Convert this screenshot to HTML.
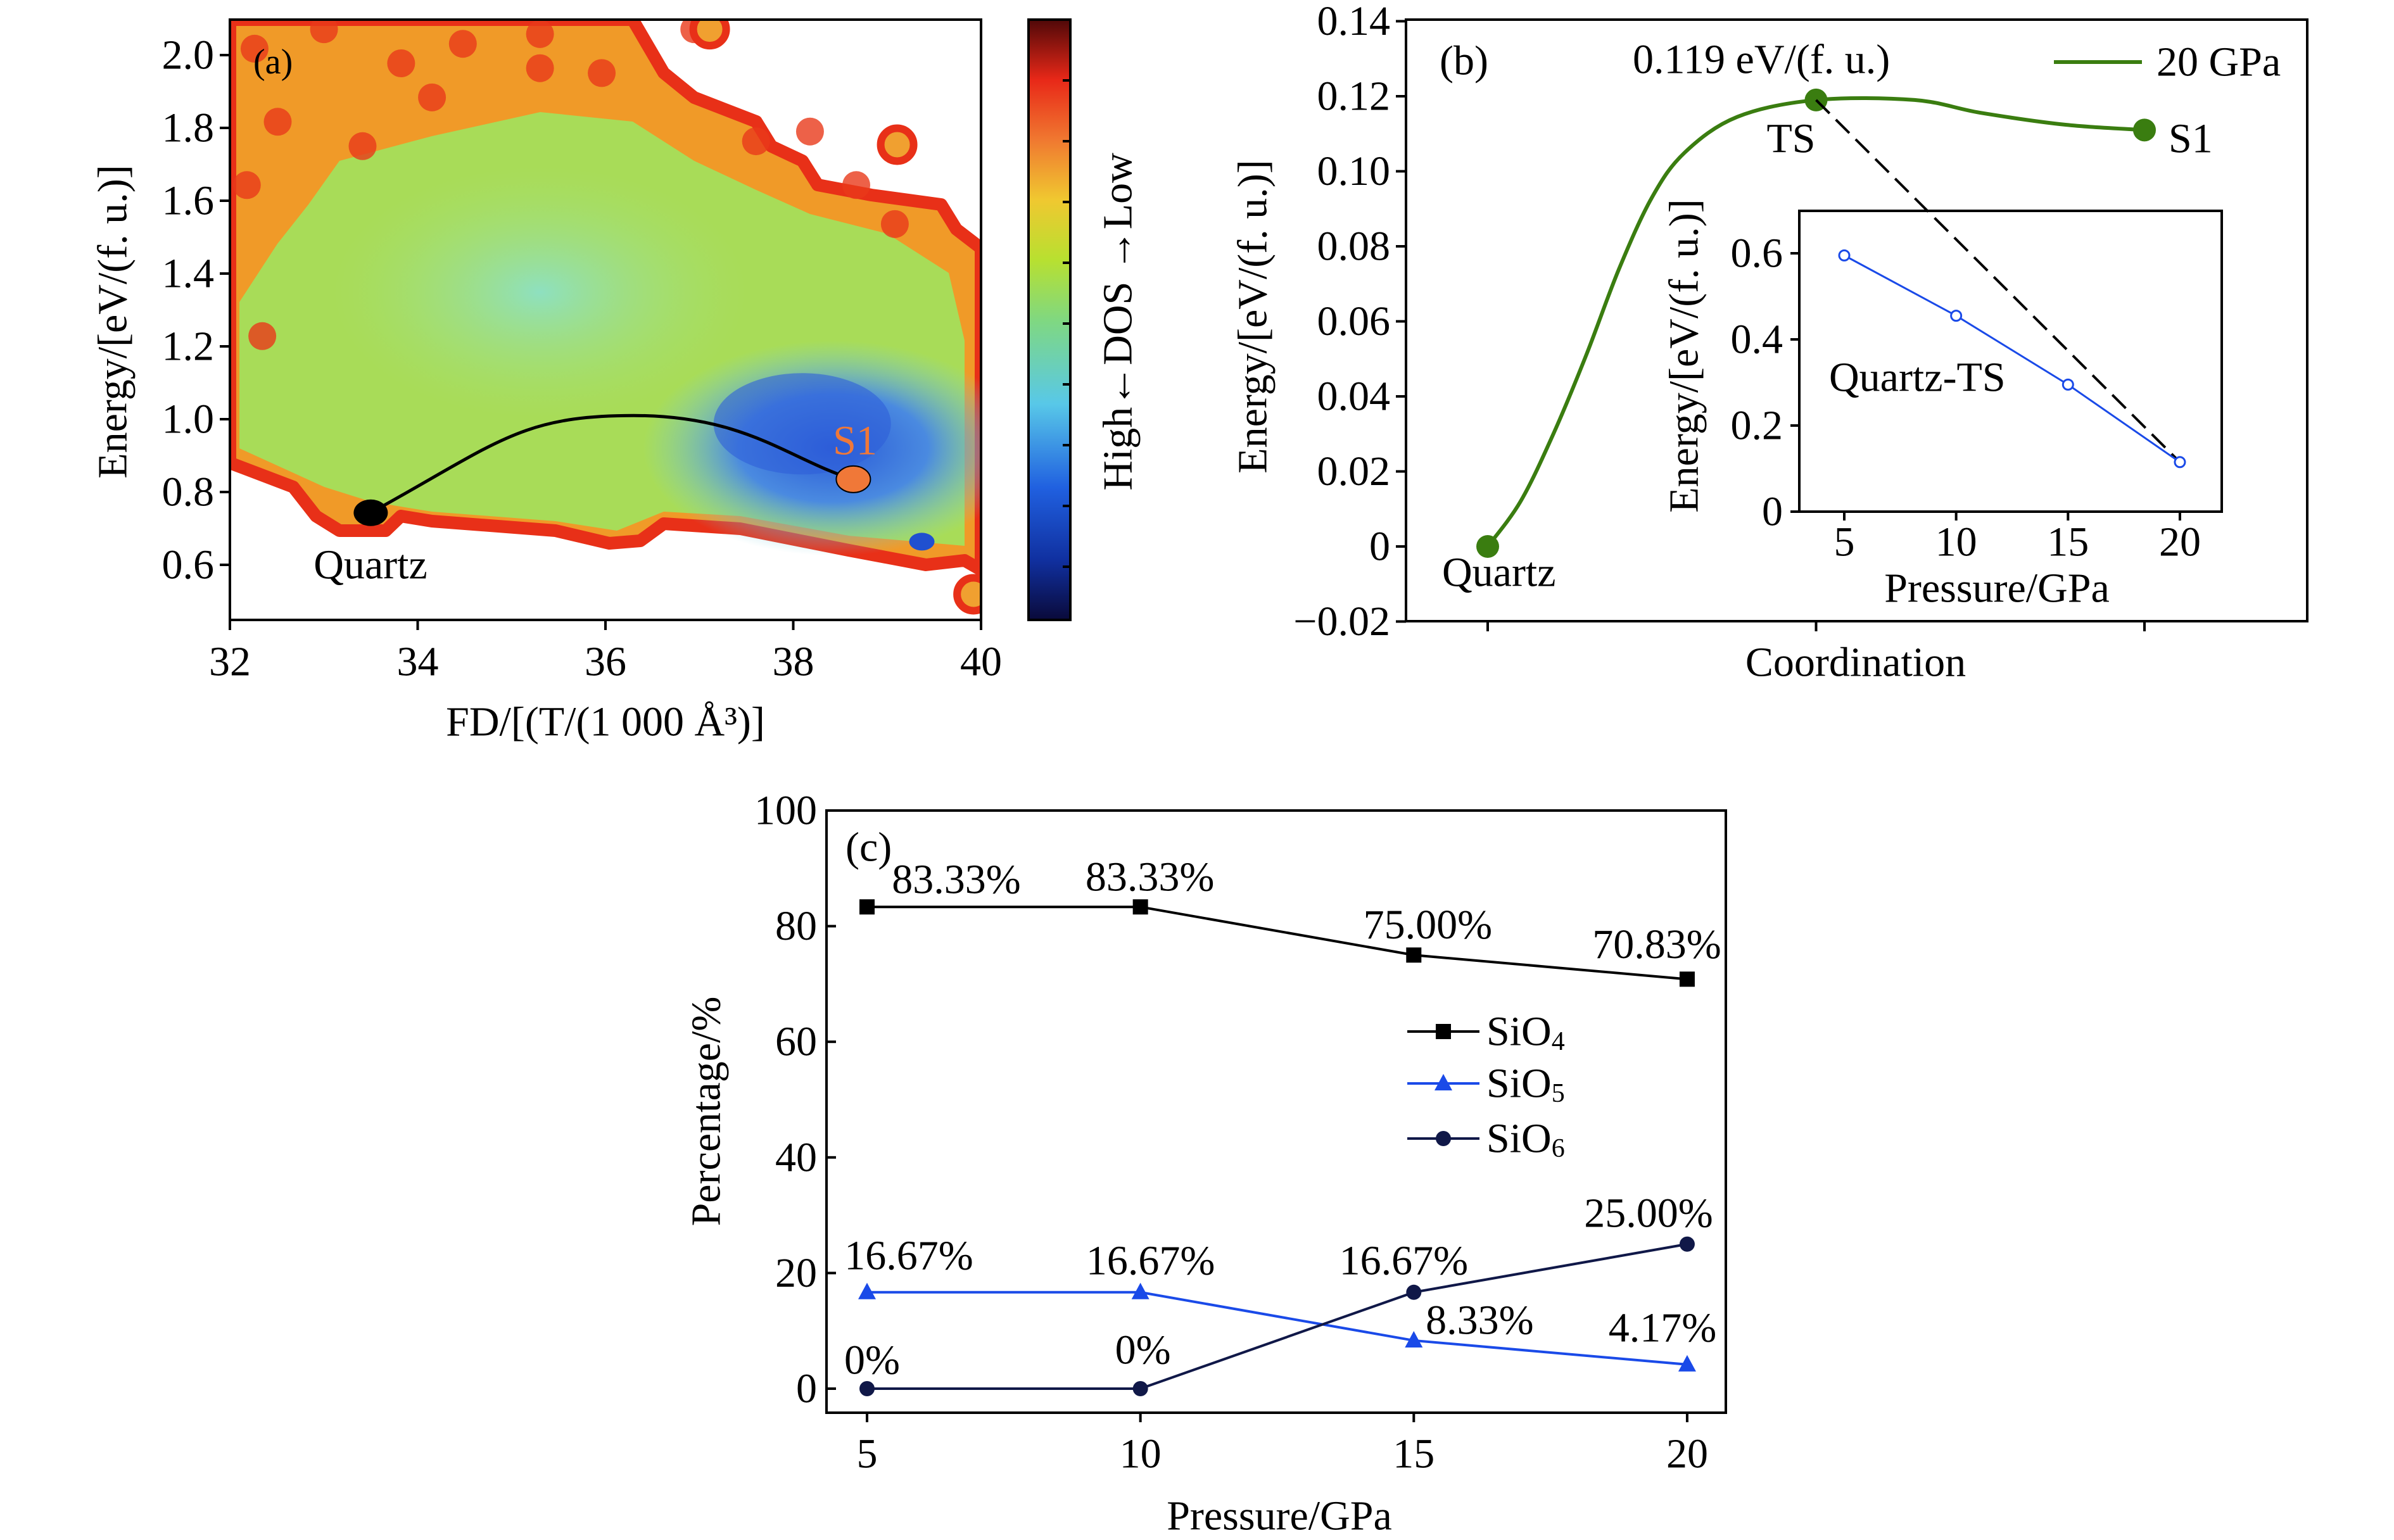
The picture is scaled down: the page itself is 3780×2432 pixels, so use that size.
<!DOCTYPE html>
<html><head><meta charset="utf-8"><style>
html,body{margin:0;padding:0;background:#fff}
svg text{font-family:"Liberation Serif",serif;fill:#000}
</style></head><body>
<svg id="fig" xmlns="http://www.w3.org/2000/svg" width="3780" height="2427" viewBox="0 0 3780 2427">
<defs>
<linearGradient id="cbar" x1="0" y1="1" x2="0" y2="0">
<stop offset="0" stop-color="#0a0a3a"/><stop offset="0.1" stop-color="#1030a0"/><stop offset="0.22" stop-color="#2060e0"/>
<stop offset="0.36" stop-color="#58c8e8"/><stop offset="0.5" stop-color="#80d880"/><stop offset="0.6" stop-color="#b8e030"/>
<stop offset="0.7" stop-color="#f0c830"/><stop offset="0.8" stop-color="#f07830"/><stop offset="0.9" stop-color="#e82818"/><stop offset="1" stop-color="#500808"/>
</linearGradient>
<radialGradient id="blue" cx="0.5" cy="0.5" r="0.5"><stop offset="0" stop-color="#2a5ad8"/><stop offset="0.5" stop-color="#4a8ae0"/><stop offset="1" stop-color="#7ad0d8" stop-opacity="0"/></radialGradient>
<radialGradient id="cyan" cx="0.5" cy="0.5" r="0.5"><stop offset="0" stop-color="#8ee0c0"/><stop offset="1" stop-color="#a8e070" stop-opacity="0"/></radialGradient>
<clipPath id="clipA"><rect x="363" y="31" width="1186" height="948"/></clipPath>
</defs>
<g id="pa"></g>
<g id="pb"></g>
<g id="pc"></g>
</svg>
<script>
// ---------- data ----------
const aXTicks = [32,34,36,38,40];
const aYTicks = [0.6,0.8,1.0,1.2,1.4,1.6,1.8,2.0];
const aPath = [[33.5,0.743],[36.3,1.01],[38.64,0.835]];
const bYTicks = [-0.02,0,0.02,0.04,0.06,0.08,0.10,0.12,0.14];
const bStates = ['Quartz','TS','S1'];
const bStateEnergy = [0,0.119,0.111];
const bCurveT = [0,0.1,0.2,0.3,0.4,0.5,0.6,0.76,1,1.3,1.5,1.76,2];
const bCurveE = [0,0.012,0.030,0.051,0.074,0.093,0.105,0.1145,0.119,0.119,0.1156,0.1124,0.111];
const insetP = [5,10,15,20];
const insetE = [0.595,0.455,0.295,0.115];
const insetYTicks = [0,0.2,0.4,0.6];
const cP = [5,10,15,20];
const sio4 = [83.33,83.33,75.00,70.83];
const sio5 = [16.67,16.67,8.33,4.17];
const sio6 = [0,0,16.67,25.00];
const cYTicks = [0,20,40,60,80,100];

const NS='http://www.w3.org/2000/svg';
function el(parent,tag,attrs){const e=document.createElementNS(NS,tag);for(const k in attrs)e.setAttribute(k,attrs[k]);parent.appendChild(e);return e;}
function T(parent,x,y,str,size,anchor,name,rot){
  const t=document.createElementNS(NS,'text');
  t.setAttribute('transform','translate('+x+','+y+')'+(rot?' rotate(-90)':''));
  t.setAttribute('font-size',size);t.setAttribute('text-anchor',anchor||'middle');
  t.setAttribute('dominant-baseline','central');
  t.textContent=str;
  
  
  parent.appendChild(t);return t;
}
const FS=66;

// ---------- panel a ----------
const pa=document.getElementById('pa');
const ax=v=>363+(v-32)*148.25, ay=v=>87+(2.0-v)*575;
const hm=el(pa,'g',{'clip-path':'url(#clipA)'});

const sx=0.821, sy=1.3;
const env=[[298,40],[820,40],[860,150],[900,200],[980,250],[1000,300],[1040,330],[1060,380],[1130,400],[1220,420],[1240,470],[1272,510],[1272,1170],[1250,1150],[1200,1160],[1100,1130],[960,1085],[860,1075],[830,1110],[790,1115],[720,1090],[560,1070],[520,1060],[500,1090],[440,1090],[410,1060],[380,1000],[298,950]];
const pts=a=>a.map(p=>(p[0]/sx).toFixed(0)+','+(p[1]/sy).toFixed(0)).join(' ');
el(hm,'polygon',{points:pts(env),fill:'#f09a28',stroke:'#e83018','stroke-width':20,'stroke-linejoin':'round'});
const green=[[440,330],[560,280],[700,230],[820,250],[900,330],[980,390],[1050,440],[1150,480],[1230,560],[1250,700],[1250,1120],[1100,1100],[960,1060],[860,1050],[800,1090],[720,1070],[560,1050],[520,1040],[480,1030],[420,1000],[310,920],[310,620],[360,500],[400,420]];
el(hm,'polygon',{points:pts(green),fill:'#a8dc58'});
el(hm,'ellipse',{cx:700/sx,cy:600/sy,rx:330,ry:200,fill:'url(#cyan)'});
el(hm,'ellipse',{cx:1080/sx,cy:920/sy,rx:300,ry:170,fill:'url(#blue)'});
el(hm,'ellipse',{cx:1040/sx,cy:870/sy,rx:140,ry:80,fill:'#2f5fd8',opacity:0.6});
[[330,100],[420,60],[520,130],[600,90],[700,70],[780,150],[560,200],[360,250],[470,300],[320,380],[340,690],[700,140],[900,60],[980,290],[1050,270],[1110,380],[1160,460]].forEach(p=>{
  el(hm,'circle',{cx:p[0]/sx,cy:p[1]/sy,r:22,fill:'#e83a1a',opacity:0.8});});
[[1163,297],[920,60],[1262,1220]].forEach(p=>{el(hm,'circle',{cx:p[0]/sx,cy:p[1]/sy,r:26,fill:'#f0a030',stroke:'#e83018','stroke-width':12});});
el(hm,'ellipse',{cx:1195/sx,cy:1112/sy,rx:20,ry:14,fill:'#2050d0'});
const q=aPath.map(p=>[ax(p[0]),ay(p[1])]);
const c=el(pa,'path',{d:`M${q[0][0]},${q[0][1]} C${q[0][0]+200},${q[0][1]-110} ${q[1][0]-180},${q[1][1]} ${q[1][0]},${q[1][1]} S${q[2][0]-100},${q[2][1]-30} ${q[2][0]},${q[2][1]}`,fill:'none',stroke:'#000','stroke-width':5});

let d=el(pa,'ellipse',{cx:q[0][0],cy:q[0][1],rx:27,ry:21,fill:'#000'});

d=el(pa,'ellipse',{cx:q[2][0],cy:q[2][1],rx:27,ry:21,fill:'#f07838',stroke:'#000','stroke-width':2});

T(pa,585,892,'Quartz',FS,'middle','quartz-label');
let s1=T(pa,1350,696,'S1',FS,'middle','s1-label');s1.style.fill='#f07838';
T(pa,400,98,'(a)',FS*0.85,'start','panel-a-label');
el(pa,'rect',{x:363,y:31,width:1186,height:948,fill:'none',stroke:'#000','stroke-width':4});
aXTicks.forEach(v=>{el(pa,'line',{x1:ax(v),x2:ax(v),y1:979,y2:995,stroke:'#000','stroke-width':4});T(pa,ax(v),1045,String(v),FS,'middle','x-tick-'+v);});
aYTicks.forEach(v=>{el(pa,'line',{x1:347,x2:363,y1:ay(v),y2:ay(v),stroke:'#000','stroke-width':4});T(pa,338,ay(v),v.toFixed(1),FS,'end','y-tick-'+v);});
T(pa,956,1140,'FD/[(T/(1 000 Å³)]',FS,'middle','x-axis-title');
T(pa,178,508,'Energy/[eV/(f. u.)]',FS,'middle','y-axis-title',true);
const cb=el(pa,'rect',{x:1624,y:31,width:66,height:948,fill:'url(#cbar)',stroke:'#000','stroke-width':4});

for(let i=1;i<10;i++){const y=31+i*96;el(pa,'line',{x1:1678,x2:1690,y1:y,y2:y,stroke:'#000','stroke-width':4});}
T(pa,1765,508,'High←DOS →Low',FS,'middle','colorbar-label',true);

// ---------- panel b ----------
const pb=document.getElementById('pb');
const bx=t=>2349+t*518.5, by=v=>863-v*5925;
const bp=bCurveT.map((t,i)=>[bx(t),by(bCurveE[i])]);
let dd='M'+bp[0][0]+','+bp[0][1];
for(let i=0;i<bp.length-1;i++){const p0=bp[Math.max(0,i-1)],p1=bp[i],p2=bp[i+1],p3=bp[Math.min(bp.length-1,i+2)];
 dd+=` C${p1[0]+(p2[0]-p0[0])/6},${p1[1]+(p2[1]-p0[1])/6} ${p2[0]-(p3[0]-p1[0])/6},${p2[1]-(p3[1]-p1[1])/6} ${p2[0]},${p2[1]}`;}
const bc=el(pb,'path',{d:dd,fill:'none',stroke:'#3a7d10','stroke-width':6});

bStates.forEach((n,i)=>{const e=el(pb,'circle',{cx:bx(i),cy:by(bStateEnergy[i]),r:18,fill:'#3a7d10'});
 });
const ix=v=>2912+(v-5)*35.33, iy=v=>808-v*680;
el(pb,'line',{x1:bx(1),y1:by(bStateEnergy[1]),x2:ix(20),y2:iy(insetE[3]),stroke:'#000','stroke-width':4,'stroke-dasharray':'30,14'});
el(pb,'rect',{x:2841,y:333,width:667,height:475,fill:'none',stroke:'#000','stroke-width':4});
const il=el(pb,'polyline',{points:insetP.map((p,i)=>ix(p)+','+iy(insetE[i])).join(' '),fill:'none',stroke:'#1a4ae8','stroke-width':3});

insetP.forEach((p,i)=>{const m=el(pb,'circle',{cx:ix(p),cy:iy(insetE[i]),r:8,fill:'#fff',stroke:'#1a4ae8','stroke-width':3});
 });
insetP.forEach(v=>{el(pb,'line',{x1:ix(v),x2:ix(v),y1:808,y2:822,stroke:'#000','stroke-width':4});T(pb,ix(v),856,String(v),FS,'middle','inset-x-tick-'+v);});
insetYTicks.forEach(v=>{el(pb,'line',{x1:2827,x2:2841,y1:iy(v),y2:iy(v),stroke:'#000','stroke-width':4});T(pb,2815,iy(v),v===0?'0':v.toFixed(1),FS,'end','inset-y-tick-'+v);});
T(pb,3153,929,'Pressure/GPa',FS,'middle','inset-x-axis-title');
T(pb,2659,562,'Energy/[eV/(f. u.)]',FS,'middle','inset-y-axis-title',true);
T(pb,2888,596,'Quartz-TS',FS,'start','inset-series-label');
el(pb,'rect',{x:2220,y:31,width:1423,height:950,fill:'none',stroke:'#000','stroke-width':4});
bYTicks.forEach(v=>{el(pb,'line',{x1:2204,x2:2220,y1:by(v),y2:by(v),stroke:'#000','stroke-width':4});
 T(pb,2195,by(v),v===0?'0':(v<0?'−'+Math.abs(v).toFixed(2):v.toFixed(2)),FS,'end','y-tick-'+v);});
[0,1,2].forEach(t=>el(pb,'line',{x1:bx(t),x2:bx(t),y1:981,y2:997,stroke:'#000','stroke-width':4}));
T(pb,2930,1046,'Coordination',FS,'middle','x-axis-title');
T(pb,1978,500,'Energy/[eV/(f. u.)]',FS,'middle','y-axis-title',true);
T(pb,2273,96,'(b)',FS,'start','panel-b-label');
T(pb,2578,94,'0.119 eV/(f. u.)',FS,'start','barrier-annotation');
T(pb,2828,219,'TS',FS,'middle','ts-label');
T(pb,3424,219,'S1',FS,'start','s1-label');
T(pb,2277,904,'Quartz',FS,'start','quartz-label');
el(pb,'line',{x1:3243,x2:3382,y1:98,y2:98,stroke:'#3a7d10','stroke-width':6});
T(pb,3405,98,'20 GPa',FS,'start','legend-20gpa');

// ---------- panel c ----------
const pc=document.getElementById('pc');
const cx=v=>1369+(v-5)*86.33, cy=v=>2193-v*9.13;
el(pc,'rect',{x:1305,y:1280,width:1420,height:951,fill:'none',stroke:'#000','stroke-width':4});
cYTicks.forEach(v=>{el(pc,'line',{x1:1305,x2:1320,y1:cy(v),y2:cy(v),stroke:'#000','stroke-width':4});T(pc,1290,cy(v),String(v),FS,'end','y-tick-'+v);});
cP.forEach(v=>{el(pc,'line',{x1:cx(v),x2:cx(v),y1:2231,y2:2246,stroke:'#000','stroke-width':4});T(pc,cx(v),2296,String(v),FS,'middle','x-tick-'+v);});
T(pc,2020,2394,'Pressure/GPa',FS,'middle','x-axis-title');
T(pc,1115,1755,'Percentage/%',FS,'middle','y-axis-title',true);
T(pc,1335,1338,'(c)',FS,'start','panel-c-label');
function marker(g,type,x,y,col){
 if(type==='sq')return el(g,'rect',{x:x-12,y:y-12,width:24,height:24,fill:col});
 if(type==='tri')return el(g,'polygon',{points:`${x},${y-15} ${x-14},${y+11} ${x+14},${y+11}`,fill:col});
 return el(g,'circle',{cx:x,cy:y,r:12,fill:col});
}
const series=[['sio4',sio4,'#000','sq'],['sio5',sio5,'#1a4ae8','tri'],['sio6',sio6,'#101848','circ']];
series.forEach(sr=>{
 const l=el(pc,'polyline',{points:cP.map((p,i)=>cx(p)+','+cy(sr[1][i])).join(' '),fill:'none',stroke:sr[2],'stroke-width':4});
 
 cP.forEach((p,i)=>{const m=marker(pc,sr[3],cx(p),cy(sr[1][i]),sr[2]);
  });
});
const fmt=v=>v===0?'0%':v.toFixed(2)+'%';
const lab4=[[141,-43],[15,-47],[22,-48],[-48,-55]];
sio4.forEach((v,i)=>T(pc,cx(cP[i])+lab4[i][0],cy(v)+lab4[i][1],fmt(v),FS,'middle','sio4-value-'+cP[i]));
const lab5=[[66,-58],[16,-50],[104,-32],[-39,-58]];
sio5.forEach((v,i)=>T(pc,cx(cP[i])+lab5[i][0],cy(v)+lab5[i][1],fmt(v),FS,'middle','sio5-value-'+cP[i]));
const lab6=[[8,-45],[4,-61],[-16,-50],[-61,-49]];
sio6.forEach((v,i)=>T(pc,cx(cP[i])+lab6[i][0],cy(v)+lab6[i][1],fmt(v),FS,'middle','sio6-value-'+cP[i]));
const legY=[1629,1711,1798];
const legN=['4','5','6'];
series.forEach((sr,i)=>{
 el(pc,'line',{x1:2222,x2:2336,y1:legY[i],y2:legY[i],stroke:sr[2],'stroke-width':4});
 const m=marker(pc,sr[3],2279,legY[i],sr[2]);
 
 const t=T(pc,2347,legY[i],'SiO',FS,'start','legend-'+sr[0]);
 const ts=document.createElementNS(NS,'tspan');ts.setAttribute('font-size',42);ts.setAttribute('dy',16);ts.textContent=legN[i];t.appendChild(ts);
});
</script>
</body></html>
